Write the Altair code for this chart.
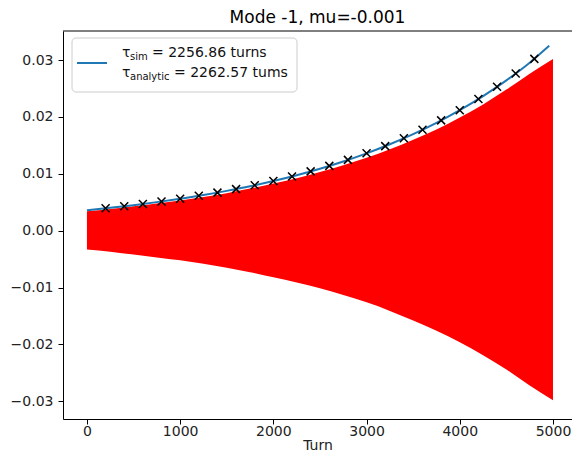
import altair as alt
import pandas as pd

# Envelope of the (dense) oscillation
turns = [0, 250, 500, 750, 1000, 1250, 1500, 1750, 2000, 2250, 2500,
         2750, 3000, 3250, 3500, 3750, 4000, 4250, 4500, 4750, 5000]
env_upper = [0.0034, 0.0038, 0.0043, 0.0048, 0.0053, 0.0059, 0.0066, 0.0074,
             0.0083, 0.0092, 0.0103, 0.0115, 0.0128, 0.0143, 0.0160, 0.0178,
             0.0199, 0.0222, 0.0248, 0.0276, 0.0302]
env_lower = [-0.0033, -0.0037, -0.0042, -0.0047, -0.0052, -0.0058, -0.0065,
             -0.0073, -0.0082, -0.0091, -0.0101, -0.0113, -0.0126, -0.0141,
             -0.0158, -0.0176, -0.0196, -0.0219, -0.0244, -0.0272, -0.0298]

# Fitted exponential (blue line)
fit_turns = [0, 250, 500, 750, 1000, 1250, 1500, 1750, 2000, 2250, 2500,
             2750, 3000, 3250, 3500, 3750, 4000, 4250, 4500, 4750, 4960]
fit_values = [0.00360, 0.00402, 0.00449, 0.00502, 0.00561, 0.00626, 0.00700,
              0.00781, 0.00873, 0.00975, 0.01089, 0.01217, 0.01360, 0.01519,
              0.01697, 0.01895, 0.02118, 0.02366, 0.02643, 0.02953, 0.03250]

# Sampled peaks (black x markers)
peak_turns = [200, 400, 600, 800, 1000, 1200, 1400, 1600, 1800, 2000, 2200,
              2400, 2600, 2800, 3000, 3200, 3400, 3600, 3800, 4000, 4200,
              4400, 4600, 4800]
peak_values = [0.00393, 0.00430, 0.00470, 0.00513, 0.00561, 0.00613, 0.00669,
               0.00731, 0.00799, 0.00873, 0.00954, 0.01043, 0.01139, 0.01245,
               0.01360, 0.01486, 0.01624, 0.01774, 0.01939, 0.02118, 0.02315,
               0.02529, 0.02764, 0.03020]

x_ticks = [0, 1000, 2000, 3000, 4000, 5000]
y_ticks = [-0.03, -0.02, -0.01, 0.0, 0.01, 0.02, 0.03]

title_text = "Mode -1, mu=-0.001"
legend_line1 = ["τ", "sim", "= 2256.86 turns"]
legend_line2 = ["τ", "analytic", "= 2262.57 tums"]

W, H = 509, 388
FONT = "DejaVu Sans"

env_df = pd.DataFrame({"turn": turns, "upper": env_upper, "lower": env_lower})
fit_df = pd.DataFrame({"turn": fit_turns, "value": fit_values})
peak_df = pd.DataFrame({"turn": peak_turns, "value": peak_values})
one = pd.DataFrame({"a": [0]})

xscale = alt.Scale(domain=[-257, 5204], nice=False, zero=False)
yscale = alt.Scale(domain=[-0.0331, 0.0351], nice=False, zero=False)

xaxis = alt.Axis(values=x_ticks, format="d", title="Turn", grid=False,
                 labelFontSize=14, titleFontSize=14, titleFontWeight="normal",
                 labelFont=FONT, titleFont=FONT, tickSize=5, labelPadding=0,
                 titleY=30, titleBaseline="alphabetic",
                 domainColor="black", tickColor="black",
                 labelColor="#222", titleColor="#222", labelFlush=False)
yaxis = alt.Axis(values=y_ticks, format=".2f", title=None, grid=False,
                 labelFontSize=14, labelFont=FONT, tickSize=5, labelPadding=5,
                 domainColor="black", tickColor="black", labelColor="#222")

area = alt.Chart(env_df).mark_area(color="#ff0000", interpolate="monotone").encode(
    x=alt.X("turn:Q", scale=xscale, axis=xaxis),
    y=alt.Y("upper:Q", scale=yscale, axis=yaxis),
    y2="lower:Q",
)

line = alt.Chart(fit_df).mark_line(color="#1f77b4", strokeWidth=2,
                                   interpolate="monotone").encode(
    x=alt.X("turn:Q", scale=xscale),
    y=alt.Y("value:Q", scale=yscale),
)

pts = alt.Chart(peak_df).mark_point(shape="M-1,-1L1,1M1,-1L-1,1", filled=False,
                                    size=64, strokeWidth=1.5, color="black",
                                    opacity=1).encode(
    x=alt.X("turn:Q", scale=xscale),
    y=alt.Y("value:Q", scale=yscale),
)

legend_box = alt.Chart(one).mark_rect(fill="white", fillOpacity=0.8,
                                      stroke="#cccccc", strokeWidth=1,
                                      cornerRadius=4).encode(
    x=alt.value(9), x2=alt.value(234), y=alt.value(7), y2=alt.value(61))

legend_handle = alt.Chart(one).mark_rule(color="#1f77b4", strokeWidth=2).encode(
    x=alt.value(14), x2=alt.value(44), y=alt.value(32))

def txt(s, x, y, size):
    return alt.Chart(one).mark_text(align="left", baseline="alphabetic",
                                    font=FONT, fontSize=size, color="#111",
                                    text=s).encode(x=alt.value(x), y=alt.value(y))

texts = [
    txt(legend_line1[0], 59, 26, 14),
    txt(legend_line1[1], 67, 29, 10),
    txt(legend_line1[2], 89, 26, 14),
    txt(legend_line2[0], 59, 46, 14),
    txt(legend_line2[1], 67, 49, 10),
    txt(legend_line2[2], 111, 46, 14),
]

top_spine = alt.Chart(one).mark_rule(color="black", strokeWidth=1).encode(
    x=alt.value(0), x2=alt.value(W), y=alt.value(0))

chart = alt.layer(area, line, pts, legend_box, legend_handle, *texts, top_spine).properties(
    width=W, height=H,
    title=alt.TitleParams(title_text, fontSize=17, fontWeight="normal", font=FONT,
                          color="black", offset=4, anchor="middle"),
    padding={"left": 55, "top": 23, "right": 0, "bottom": 32},
    autosize=alt.AutoSizeParams(type="none"),
).configure_view(stroke=None)

chart.save("out.html", embed_options={"renderer": "svg", "actions": False})
